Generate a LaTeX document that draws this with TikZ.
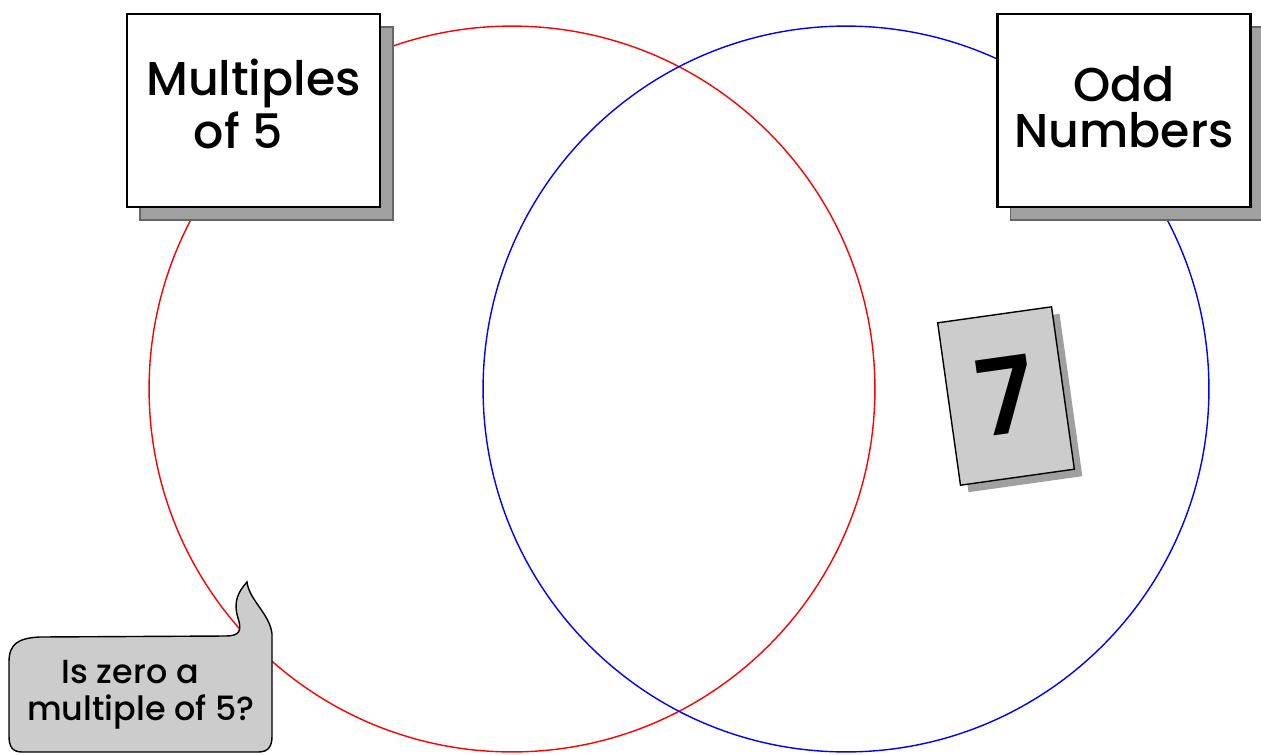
\documentclass[tikz,border=0pt]{standalone}
\usepackage{fontspec}
\setmainfont{Poppins}[UprightFont=* Medium, BoldFont=* SemiBold]
\usepackage{xcolor}
\usetikzlibrary{shadows}

\definecolor{shadowgrey}{HTML}{A0A0A0}
\definecolor{cardgrey}{HTML}{CCCCCC}

\begin{document}
\begin{tikzpicture}[x=0.02cm, y=-0.02cm,
  set/.style={circle, draw, line width=0.8pt, minimum size=14.52cm, inner sep=0pt},
  title box/.style={rectangle, draw, fill=white, line width=1.4pt, minimum width=5.06cm, minimum height=3.86cm,
    align=center, font=\fontsize{27}{30}\selectfont,
    general shadow={fill=shadowgrey, draw=black!60, line width=0.6pt, shadow xshift=0.26cm, shadow yshift=-0.26cm}},
  card/.style={rectangle, draw, fill=cardgrey, line width=0.8pt, minimum width=2.3cm, minimum height=3.28cm,
    font=\fontsize{60}{60}\selectfont\bfseries,
    general shadow={fill=shadowgrey, shadow xshift=0.16cm, shadow yshift=-0.14cm}},
  bubble/.style={draw, fill=cardgrey, line width=0.8pt}]
  \useasboundingbox (0,0) rectangle (1261,754);

  % the two sets
  \node[set, draw=red] (fives) at (512,389) {};
  \node[set, draw=blue] (odds) at (846,389) {};

  % set titles
  \node[title box] (fivesbox) at (253.5,110.5) {Multiples\\of 5\phantom{n}\\[-22pt]};
  \node[title box] (oddsbox) at (1124,110.5) {Odd\\[-4pt]Numbers\\[-26pt]};

  % number card
  \node[card, rotate=8] (seven) at (1006,396) {7};

  % question
  \draw[bubble] (22,752) .. controls (12,752) and (9,746) .. (9,736) -- (9,662)
    .. controls (9,644) and (18,638) .. (40,637) -- (226,636)
    .. controls (240,636) and (242,630) .. (238,618)
    .. controls (233,602) and (238,592) .. (247,582)
    .. controls (249,600) and (270,614) .. (272,634) -- (272,736)
    .. controls (272,747) and (268,752) .. (258,752) -- cycle;
  \node[align=center, font=\fontsize{19}{21}\selectfont] (question) at (141,695) {Is zero a\phantom{n}\\multiple of 5?};
\end{tikzpicture}
\end{document}
